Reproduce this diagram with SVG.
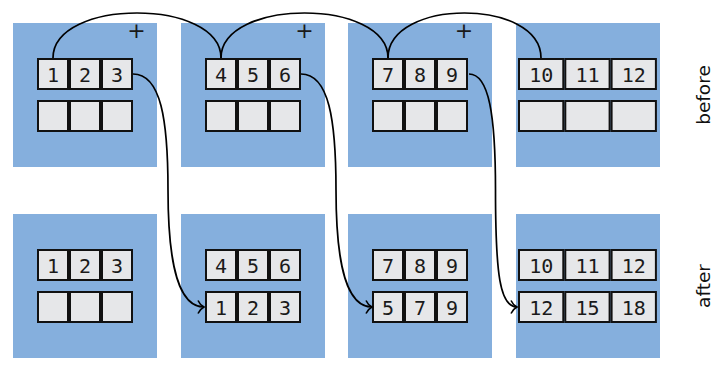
<svg xmlns="http://www.w3.org/2000/svg" width="720" height="366" viewBox="0 0 720 366">
<defs>
<style>
.panel{fill:#85afdd}
.cell{fill:#e6e7e9;stroke:#111;stroke-width:2}
.num{font-family:"DejaVu Sans Mono",monospace;font-size:20px;fill:#1a1a1a;text-anchor:middle}
.plus{font-family:"DejaVu Sans",sans-serif;font-size:22px;fill:#1a1a1a;text-anchor:middle}
.lbl{font-family:"DejaVu Sans",sans-serif;font-size:18.5px;fill:#111;text-anchor:middle}
.conn{fill:none;stroke:#000;stroke-width:1.7}
</style>
<marker id="arr" markerUnits="userSpaceOnUse" markerWidth="14" markerHeight="16" refX="0" refY="0" orient="auto" overflow="visible">
<path d="M-6,-6.5 C-4.5,-3 -1.5,-0.8 0,0 C-1.5,0.8 -4.5,3 -6,6.5" fill="none" stroke="#000" stroke-width="1.6"/>
</marker>
</defs>
<rect width="720" height="366" fill="#fff"/>

<g id="before1">
<rect class="panel" x="13" y="23" width="144" height="144"/>
<text class="plus" x="136.5" y="37.5">+</text>
<rect class="cell" x="38" y="59" width="30" height="30"/><rect class="cell" x="70" y="59" width="30" height="30"/><rect class="cell" x="102" y="59" width="30" height="30"/>
<text class="num" x="53" y="81.5">1</text><text class="num" x="85" y="81.5">2</text><text class="num" x="117" y="81.5">3</text>
<rect class="cell" x="38" y="101" width="30" height="30"/><rect class="cell" x="70" y="101" width="30" height="30"/><rect class="cell" x="102" y="101" width="30" height="30"/>
</g>
<g id="before2">
<rect class="panel" x="181" y="23" width="144" height="144"/>
<text class="plus" x="304.5" y="37.5">+</text>
<rect class="cell" x="206" y="59" width="30" height="30"/><rect class="cell" x="238" y="59" width="30" height="30"/><rect class="cell" x="270" y="59" width="30" height="30"/>
<text class="num" x="221" y="81.5">4</text><text class="num" x="253" y="81.5">5</text><text class="num" x="285" y="81.5">6</text>
<rect class="cell" x="206" y="101" width="30" height="30"/><rect class="cell" x="238" y="101" width="30" height="30"/><rect class="cell" x="270" y="101" width="30" height="30"/>
</g>
<g id="before3">
<rect class="panel" x="348" y="23" width="144" height="144"/>
<text class="plus" x="464" y="37.5">+</text>
<rect class="cell" x="373" y="59" width="30" height="30"/><rect class="cell" x="405" y="59" width="30" height="30"/><rect class="cell" x="437" y="59" width="30" height="30"/>
<text class="num" x="388" y="81.5">7</text><text class="num" x="420" y="81.5">8</text><text class="num" x="452" y="81.5">9</text>
<rect class="cell" x="373" y="101" width="30" height="30"/><rect class="cell" x="405" y="101" width="30" height="30"/><rect class="cell" x="437" y="101" width="30" height="30"/>
</g>
<g id="before4">
<rect class="panel" x="516" y="23" width="144" height="144"/>
<rect class="cell" x="519" y="59" width="44.3" height="30"/><rect class="cell" x="565.3" y="59" width="44.3" height="30"/><rect class="cell" x="611.6" y="59" width="44.3" height="30"/>
<text class="num" x="541.2" y="81.5">10</text><text class="num" x="587.5" y="81.5">11</text><text class="num" x="633.8" y="81.5">12</text>
<rect class="cell" x="519" y="101" width="44.3" height="30"/><rect class="cell" x="565.3" y="101" width="44.3" height="30"/><rect class="cell" x="611.6" y="101" width="44.3" height="30"/>
</g>

<g id="after1">
<rect class="panel" x="13" y="214" width="144" height="144"/>
<rect class="cell" x="38" y="250" width="30" height="30"/><rect class="cell" x="70" y="250" width="30" height="30"/><rect class="cell" x="102" y="250" width="30" height="30"/>
<text class="num" x="53" y="272.5">1</text><text class="num" x="85" y="272.5">2</text><text class="num" x="117" y="272.5">3</text>
<rect class="cell" x="38" y="292" width="30" height="30"/><rect class="cell" x="70" y="292" width="30" height="30"/><rect class="cell" x="102" y="292" width="30" height="30"/>
</g>
<g id="after2">
<rect class="panel" x="181" y="214" width="144" height="144"/>
<rect class="cell" x="206" y="250" width="30" height="30"/><rect class="cell" x="238" y="250" width="30" height="30"/><rect class="cell" x="270" y="250" width="30" height="30"/>
<text class="num" x="221" y="272.5">4</text><text class="num" x="253" y="272.5">5</text><text class="num" x="285" y="272.5">6</text>
<rect class="cell" x="206" y="292" width="30" height="30"/><rect class="cell" x="238" y="292" width="30" height="30"/><rect class="cell" x="270" y="292" width="30" height="30"/>
<text class="num" x="221" y="314.5">1</text><text class="num" x="253" y="314.5">2</text><text class="num" x="285" y="314.5">3</text>
</g>
<g id="after3">
<rect class="panel" x="348" y="214" width="144" height="144"/>
<rect class="cell" x="373" y="250" width="30" height="30"/><rect class="cell" x="405" y="250" width="30" height="30"/><rect class="cell" x="437" y="250" width="30" height="30"/>
<text class="num" x="388" y="272.5">7</text><text class="num" x="420" y="272.5">8</text><text class="num" x="452" y="272.5">9</text>
<rect class="cell" x="373" y="292" width="30" height="30"/><rect class="cell" x="405" y="292" width="30" height="30"/><rect class="cell" x="437" y="292" width="30" height="30"/>
<text class="num" x="388" y="314.5">5</text><text class="num" x="420" y="314.5">7</text><text class="num" x="452" y="314.5">9</text>
</g>
<g id="after4">
<rect class="panel" x="516" y="214" width="144" height="144"/>
<rect class="cell" x="519" y="250" width="44.3" height="30"/><rect class="cell" x="565.3" y="250" width="44.3" height="30"/><rect class="cell" x="611.6" y="250" width="44.3" height="30"/>
<text class="num" x="541.2" y="272.5">10</text><text class="num" x="587.5" y="272.5">11</text><text class="num" x="633.8" y="272.5">12</text>
<rect class="cell" x="519" y="292" width="44.3" height="30"/><rect class="cell" x="565.3" y="292" width="44.3" height="30"/><rect class="cell" x="611.6" y="292" width="44.3" height="30"/>
<text class="num" x="541.2" y="314.5">12</text><text class="num" x="587.5" y="314.5">15</text><text class="num" x="633.8" y="314.5">18</text>
</g>

<g id="labels">
<text class="lbl" transform="translate(710,95) rotate(-90)">before</text>
<text class="lbl" transform="translate(710,286) rotate(-90)">after</text>
</g>

<g id="connectors">
<path class="conn" d="M53,58 C53,-2 221,-2 221,58"/>
<path class="conn" d="M221,58 C221,-2 388,-2 388,58"/>
<path class="conn" d="M388,58 C388,-2 541,-2 541,58"/>
<path class="conn" marker-end="url(#arr)" d="M133,74 C161,74 168,120 168,190 C168,270 180,307 204,307"/>
<path class="conn" marker-end="url(#arr)" d="M301,74 C329,74 336,120 336,190 C336,270 348,307 372,307"/>
<path class="conn" marker-end="url(#arr)" d="M469,74 C489,74 495.5,115 495.5,190 C495.5,275 500,307 517,307"/>
</g>
</svg>
